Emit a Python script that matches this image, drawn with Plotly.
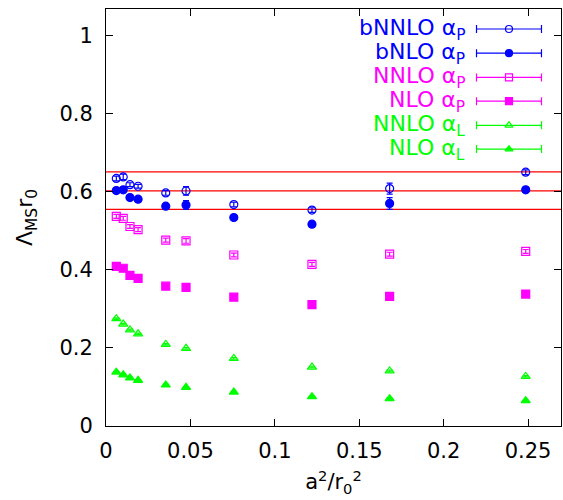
import plotly.graph_objects as go

# ---- data ----
a2r2 = [0.0061, 0.0102, 0.0142, 0.019, 0.0354, 0.0474, 0.0757, 0.122, 0.168, 0.2486]

bnnlo_p = [0.634, 0.638, 0.618, 0.614, 0.597, 0.602, 0.567, 0.553, 0.608, 0.650]
bnnlo_p_err = [0.006, 0.007, 0.005, 0.005, 0.006, 0.011, 0.006, 0.006, 0.014, 0.006]
bnlo_p = [0.603, 0.605, 0.585, 0.581, 0.563, 0.566, 0.534, 0.517, 0.570, 0.605]
bnlo_p_err = [0.004, 0.005, 0.004, 0.004, 0.005, 0.011, 0.005, 0.006, 0.015, 0.006]
nnlo_p = [0.537, 0.532, 0.511, 0.503, 0.476, 0.474, 0.438, 0.414, 0.440, 0.447]
nnlo_p_err = [0.005, 0.005, 0.005, 0.005, 0.005, 0.006, 0.005, 0.005, 0.005, 0.005]
nlo_p = [0.409, 0.404, 0.386, 0.378, 0.358, 0.355, 0.330, 0.311, 0.332, 0.338]
nlo_p_err = [0.003, 0.003, 0.003, 0.003, 0.003, 0.004, 0.003, 0.003, 0.003, 0.003]
nnlo_l = [0.275, 0.261, 0.246, 0.236, 0.209, 0.199, 0.173, 0.151, 0.141, 0.127]
nnlo_l_err = [0.002] * 10
nlo_l = [0.138, 0.131, 0.123, 0.117, 0.105, 0.099, 0.087, 0.075, 0.070, 0.065]
nlo_l_err = [0.002] * 10

band_lines = [0.651, 0.602, 0.555]

series_names = ["bNNLO α<sub>P</sub>", "bNLO α<sub>P</sub>", "NNLO α<sub>P</sub>",
                "NLO α<sub>P</sub>", "NNLO α<sub>L</sub>", "NLO α<sub>L</sub>"]
series_vals = [bnnlo_p, bnlo_p, nnlo_p, nlo_p, nnlo_l, nlo_l]
series_errs = [bnnlo_p_err, bnlo_p_err, nnlo_p_err, nlo_p_err, nnlo_l_err, nlo_l_err]
series_colors = ["#0000ff", "#0000ff", "#ff00ff", "#ff00ff", "#00ff00", "#00ff00"]
series_symbols = ["circle-open", "circle", "square-open", "square", "triangle-up-open", "triangle-up"]
series_sizes = [8, 8, 8, 8, 8, 8]

FONT = "DejaVu Sans, Verdana, sans-serif"

fig = go.Figure()

for ln in band_lines:
    fig.add_shape(type="line", xref="paper", yref="y", x0=0, x1=1, y0=ln, y1=ln,
                  line=dict(color="#ff0000", width=1.2), layer="below")

for name, vals, errs, col, sym, sz in zip(series_names, series_vals, series_errs,
                                          series_colors, series_symbols, series_sizes):
    fig.add_trace(go.Scatter(
        x=a2r2, y=vals, mode="markers", name=name, showlegend=False,
        marker=dict(symbol=sym, color=col, size=sz, line=dict(color=col, width=1.2)),
        error_y=dict(type="data", array=errs, visible=True, color=col, thickness=1.2, width=3),
    ))

# ---- legend (gnuplot style: text, then error-bar sample) ----
leg_y = [0.952, 0.894, 0.836, 0.779, 0.721, 0.664]
leg_text_x = 0.793
leg_mark_x = 0.8857
leg_half = 0.0714
for i, (name, col, sym, sz) in enumerate(zip(series_names, series_colors, series_symbols, series_sizes)):
    fig.add_annotation(xref="paper", yref="paper", x=leg_text_x, y=leg_y[i],
                       text=name, showarrow=False, xanchor="right", yanchor="middle",
                       font=dict(family=FONT, size=22, color=col))
    fig.add_trace(go.Scatter(
        x=[leg_mark_x], y=[leg_y[i]], xaxis="x2", yaxis="y2", mode="markers",
        showlegend=False, hoverinfo="skip",
        marker=dict(symbol=sym, color=col, size=sz - 1, line=dict(color=col, width=1.2)),
        error_x=dict(type="constant", value=leg_half, visible=True, color=col, thickness=1.2, width=4),
    ))

axis_common = dict(showline=True, linecolor="black", linewidth=1, mirror="ticks",
                   ticks="inside", ticklen=7, tickcolor="black", tickwidth=1,
                   showgrid=False, zeroline=False,
                   tickfont=dict(family=FONT, size=21, color="black"))

fig.update_layout(
    width=563, height=500,
    margin=dict(l=106, r=2, t=9, b=74),
    paper_bgcolor="white", plot_bgcolor="white",
    xaxis=dict(range=[0, 0.2695], tickvals=[0, 0.05, 0.1, 0.15, 0.2, 0.25],
               ticktext=["0", "0.05", "0.1", "0.15", "0.2", "0.25"],
               title=dict(text="a<sup>2</sup>/r<sub>0</sub><sup>2</sup>",
                          font=dict(family=FONT, size=21, color="black"), standoff=12),
               ticklabelstandoff=6, **axis_common),
    yaxis=dict(range=[0, 1.068], tickvals=[0, 0.2, 0.4, 0.6, 0.8, 1],
               ticktext=["0", "0.2", "0.4", "0.6", "0.8", "1"],
               title=dict(text="Λ<sub>MS</sub>r<sub>0</sub>",
                          font=dict(family=FONT, size=22, color="black"), standoff=20),
               ticklabelstandoff=8, **axis_common),
    xaxis2=dict(range=[0, 1], overlaying="x", visible=False, fixedrange=True),
    yaxis2=dict(range=[0, 1], overlaying="y", visible=False, fixedrange=True),
)

fig.write_html("out.html")
